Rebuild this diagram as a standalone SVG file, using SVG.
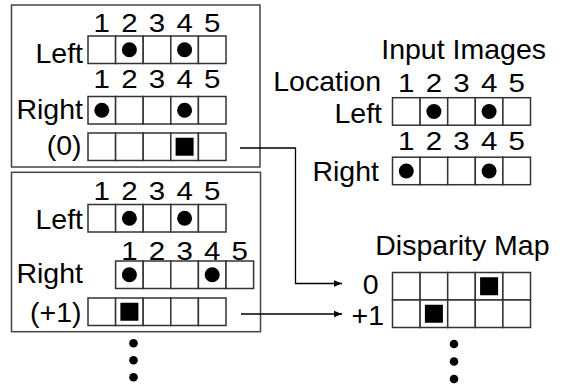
<svg xmlns="http://www.w3.org/2000/svg" width="561" height="388" viewBox="0 0 561 388">
  <style>
    text { font-family: "Liberation Sans", Arial, sans-serif; fill: #000; }
    .lbl { font-size: 28.5px; text-anchor: end; }
    .dig { font-size: 25px; text-anchor: middle; }
    .panel { fill: #fff; stroke: #444; stroke-width: 1.5; }
    .cell { fill: #fff; stroke: #333; stroke-width: 1.5; }
    .pix { fill: #000; }
    .wire { fill: none; stroke: #000; stroke-width: 1.3; }
  </style>
  <defs>
    <marker id="arrow" viewBox="0 0 10 10" refX="10" refY="5" markerWidth="8" markerHeight="8" markerUnits="userSpaceOnUse" orient="auto">
      <path d="M0,1 L10,5 L0,9 z" fill="#000"/>
    </marker>
    <!-- a row of five pixel cells, 27.6 wide and 27.5 high -->
    <g id="row5">
      <rect class="cell" x="0" y="0" width="27.6" height="27.5"/>
      <rect class="cell" x="27.6" y="0" width="27.6" height="27.5"/>
      <rect class="cell" x="55.2" y="0" width="27.6" height="27.5"/>
      <rect class="cell" x="82.8" y="0" width="27.6" height="27.5"/>
      <rect class="cell" x="110.4" y="0" width="27.6" height="27.5"/>
    </g>
    <!-- location numbers centred over the cells, set slightly wide -->
    <g id="nums">
      <text class="dig" transform="translate(13.8,0) scale(1.18,1)">1</text>
      <text class="dig" transform="translate(41.4,0) scale(1.18,1)">2</text>
      <text class="dig" transform="translate(69,0) scale(1.18,1)">3</text>
      <text class="dig" transform="translate(96.6,0) scale(1.18,1)">4</text>
      <text class="dig" transform="translate(124.2,0) scale(1.18,1)">5</text>
    </g>
  </defs>

  <!-- disparity 0 hypothesis -->
  <g id="shift-0">
    <rect class="panel" x="11.5" y="5" width="248.5" height="162"/>
    <use href="#nums" x="88" y="32.3"/>
    <text class="lbl" x="83" y="62.7">Left</text>
    <use href="#row5" x="88" y="36"/>
    <circle class="pix" cx="129.4" cy="49.75" r="7.5"/>
    <circle class="pix" cx="184.6" cy="49.75" r="7.5"/>
    <use href="#nums" x="88" y="88.3"/>
    <text class="lbl" x="83" y="119">Right</text>
    <use href="#row5" x="88" y="96.5"/>
    <circle class="pix" cx="101.8" cy="110.25" r="7.5"/>
    <circle class="pix" cx="184.6" cy="110.25" r="7.5"/>
    <text class="lbl" x="81.5" y="155">(0)</text>
    <use href="#row5" x="88" y="133"/>
    <rect class="pix" x="175.6" y="137.75" width="18" height="18"/>
  </g>

  <!-- disparity +1 hypothesis -->
  <g id="shift-1">
    <rect class="panel" x="11.5" y="172.3" width="249" height="159.4"/>
    <use href="#nums" x="88" y="200"/>
    <text class="lbl" x="83" y="229.3">Left</text>
    <use href="#row5" x="88" y="204.5"/>
    <circle class="pix" cx="129.4" cy="218.25" r="7.5"/>
    <circle class="pix" cx="184.6" cy="218.25" r="7.5"/>
    <use href="#nums" x="115.6" y="260"/>
    <text class="lbl" x="83" y="283.3">Right</text>
    <use href="#row5" x="115.6" y="261"/>
    <circle class="pix" cx="129.4" cy="274.75" r="7.5"/>
    <circle class="pix" cx="212.2" cy="274.75" r="7.5"/>
    <text class="lbl" x="81.5" y="321.7">(+1)</text>
    <use href="#row5" x="88" y="298"/>
    <rect class="pix" x="120.4" y="302.75" width="18" height="18"/>
    <circle class="pix" cx="133.5" cy="343.3" r="4.3"/>
    <circle class="pix" cx="133.5" cy="360.3" r="4.3"/>
    <circle class="pix" cx="133.5" cy="377.3" r="4.3"/>
  </g>

  <!-- input stereo pair -->
  <g id="input-images">
    <text class="lbl" x="546" y="59">Input Images</text>
    <text class="lbl" x="381" y="91">Location</text>
    <use href="#nums" x="392.5" y="92.3"/>
    <text class="lbl" x="382" y="123.3">Left</text>
    <use href="#row5" x="392.5" y="97.7"/>
    <circle class="pix" cx="433.9" cy="111.45" r="7.5"/>
    <circle class="pix" cx="489.1" cy="111.45" r="7.5"/>
    <use href="#nums" x="392.5" y="150"/>
    <text class="lbl" x="379" y="181">Right</text>
    <use href="#row5" x="392.5" y="157.2"/>
    <circle class="pix" cx="406.3" cy="170.95" r="7.5"/>
    <circle class="pix" cx="489.1" cy="170.95" r="7.5"/>
  </g>

  <!-- resulting disparity map -->
  <g id="disparity-map">
    <text class="lbl" x="549.5" y="255">Disparity Map</text>
    <text class="lbl" x="378.5" y="294.3">0</text>
    <text class="lbl" x="384" y="325">+1</text>
    <use href="#row5" x="392.5" y="272.5"/>
    <use href="#row5" x="392.5" y="300"/>
    <rect class="pix" x="480.1" y="277.25" width="18" height="18"/>
    <rect class="pix" x="424.9" y="304.75" width="18" height="18"/>
    <circle class="pix" cx="454" cy="344" r="4.3"/>
    <circle class="pix" cx="454" cy="361.5" r="4.3"/>
    <circle class="pix" cx="454" cy="379" r="4.3"/>
  </g>

  <g id="connectors">
    <path class="wire" d="M240,148 H295.5 V283.5 H342" marker-end="url(#arrow)"/>
    <path class="wire" d="M241,314 H342" marker-end="url(#arrow)"/>
  </g>
</svg>
